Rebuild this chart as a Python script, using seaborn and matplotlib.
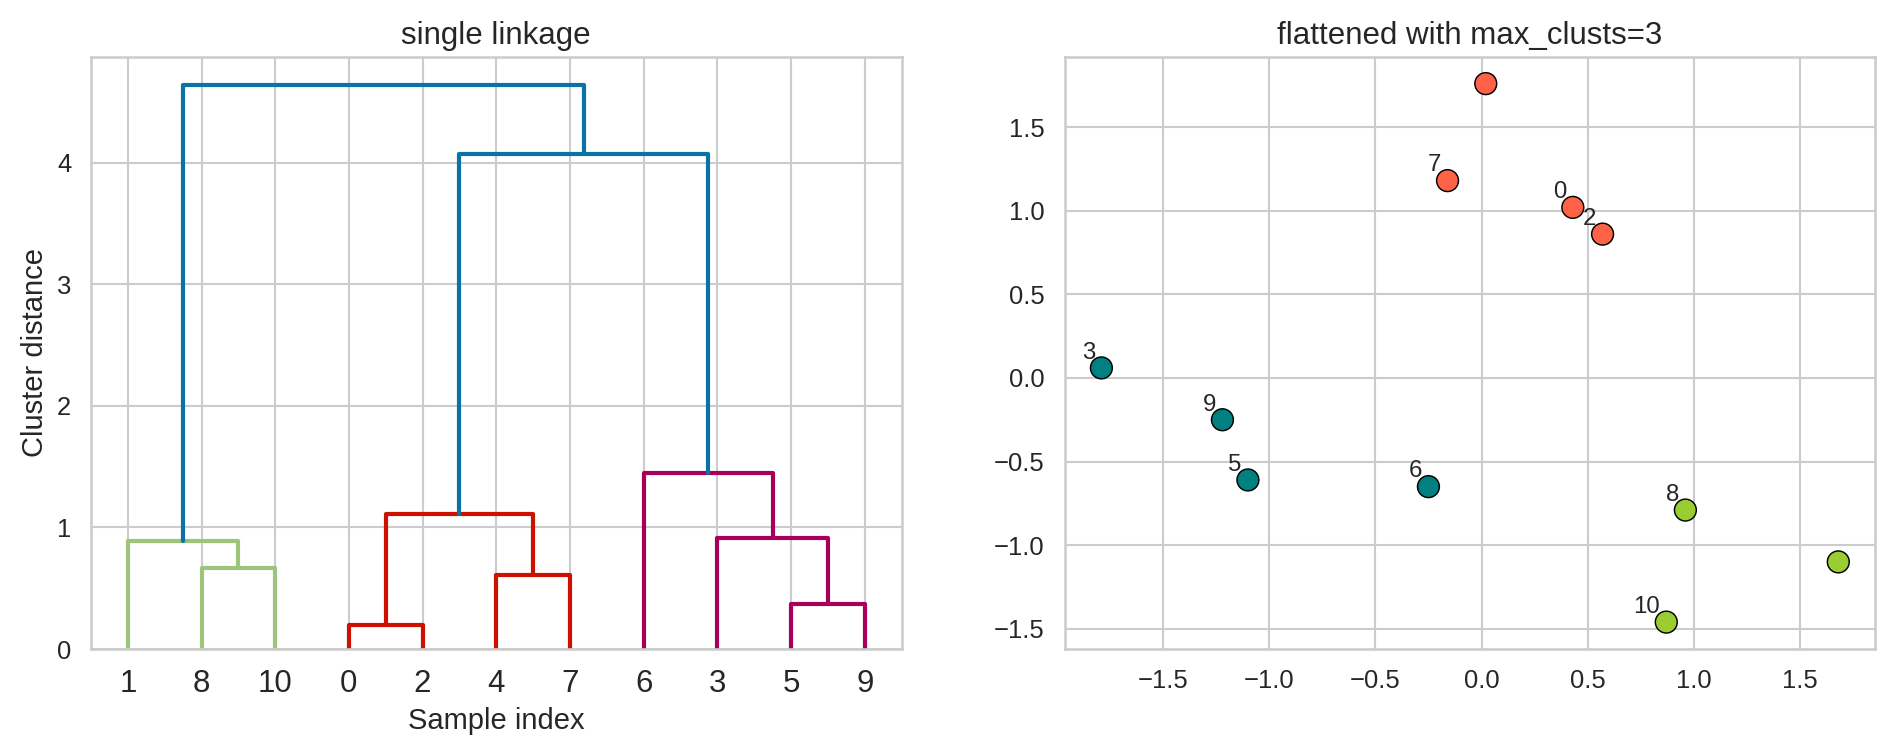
import numpy as np
import pandas as pd
import seaborn as sns
import matplotlib.pyplot as plt

# 단일 연결 병합 정보 (scipy linkage 형식: 왼쪽, 오른쪽, 거리)
n_samples = 11
merge_left = [0, 5, 4, 8, 1, 3, 11, 6, 17, 15]
merge_right = [2, 9, 7, 10, 14, 12, 13, 16, 18, 19]
merge_dist = [0.20, 0.37, 0.61, 0.67, 0.89, 0.91, 1.11, 1.45, 4.07, 4.64]

# 클러스터별 덴드로그램 색 (임계값 아래), 임계값 위 색
link_colors = ["#9cc57b", "#cc1100", "#a8005a"]
above_color = "#0b72a6"

# 오른쪽 산점도 데이터
point_x = [0.43, 1.68, 0.57, -1.79, 0.02, -1.10, -0.25, -0.16, 0.96, -1.22, 0.87]
point_y = [1.02, -1.10, 0.86, 0.06, 1.76, -0.61, -0.65, 1.18, -0.79, -0.25, -1.46]
point_cluster = [1, 3, 1, 2, 1, 2, 2, 1, 3, 2, 3]
labelled = [0, 2, 3, 5, 6, 7, 8, 9, 10]
cluster_palette = {1: "tomato", 2: "teal", 3: "yellowgreen"}

sns.set_theme(style="whitegrid")
plt.rcParams['font.family'] = ['Liberation Sans', 'DejaVu Sans']

fig, axes = plt.subplots(1, 2, figsize=(12.64, 5.04), dpi=150)
fig.subplots_adjust(left=0.048, right=0.989, bottom=0.1415, top=0.925, wspace=0.201)

# 1. 덴드로그램 (직접 트리 순회)
children = {}
heights = {}
for k in range(len(merge_dist)):
    node = n_samples + k
    children[node] = (merge_left[k], merge_right[k])
    heights[node] = merge_dist[k]
root = n_samples + len(merge_dist) - 1
threshold = 0.7 * max(merge_dist)

leaf_order = []
def collect(node):
    if node < n_samples:
        leaf_order.append(node)
        return
    collect(children[node][0])
    collect(children[node][1])
collect(root)
leaf_pos = {leaf: 5 + 10 * i for i, leaf in enumerate(leaf_order)}

ax = axes[0]
color_idx = [0]
def draw(node, color):
    if node < n_samples:
        return leaf_pos[node], 0.0
    h = heights[node]
    if h < threshold and color is None:
        color = link_colors[color_idx[0] % len(link_colors)]
        color_idx[0] += 1
    c = color if color is not None else above_color
    xl, hl = draw(children[node][0], color)
    xr, hr = draw(children[node][1], color)
    ax.plot([xl, xl, xr, xr], [hl, h, h, hr], color=c, lw=2.0)
    return (xl + xr) / 2, h
draw(root, None)

ax.set_xlim(0, 10 * n_samples)
ax.set_ylim(0, max(merge_dist) * 1.05)
ax.set_xticks([leaf_pos[l] for l in leaf_order])
ax.set_xticklabels([str(l) for l in leaf_order], fontsize=15)
ax.set_yticks([0, 1, 2, 3, 4])
ax.tick_params(axis='y', labelsize=12.3)
ax.set_title("single linkage", fontsize=15)
ax.set_xlabel("Sample index", fontsize=14)
ax.set_ylabel("Cluster distance", fontsize=14)

# 2. 평탄화된 클러스터 산점도
df = pd.DataFrame({"x": point_x, "y": point_y, "cluster": point_cluster})
ax2 = axes[1]
sns.scatterplot(data=df, x="x", y="y", hue="cluster", palette=cluster_palette,
                s=110, edgecolor="black", linewidth=0.7, legend=False, ax=ax2, zorder=3)
for i in labelled:
    ax2.annotate(str(i), (point_x[i], point_y[i]), xytext=(-3, 2),
                 textcoords='offset points', ha='right', va='bottom', fontsize=11.5)
ax2.set_xticks([-1.5, -1.0, -0.5, 0.0, 0.5, 1.0, 1.5])
ax2.set_yticks([-1.5, -1.0, -0.5, 0.0, 0.5, 1.0, 1.5])
ax2.tick_params(labelsize=12.3)
ax2.set_xlabel("")
ax2.set_ylabel("")
ax2.set_title("flattened with max_clusts=3", fontsize=15)

fig.savefig("out.png", dpi=150)
